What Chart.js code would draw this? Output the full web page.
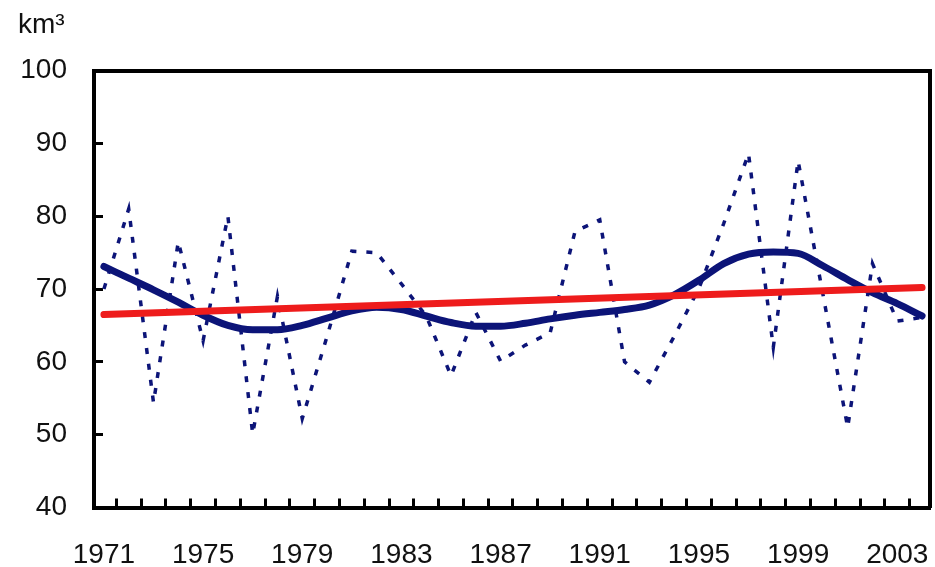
<!DOCTYPE html>
<html>
<head>
<meta charset="utf-8">
<script src="https://cdn.jsdelivr.net/npm/chart.js@4/dist/chart.umd.min.js"></script>
<style>
  html, body { margin: 0; padding: 0; background: #fff; }
  #wrap { width: 935px; height: 567px; }
</style>
</head>
<body>
<div id="wrap"><canvas id="c" width="935" height="567"></canvas></div>
<script>
// ---- data ----
const years = [1971,1972,1973,1974,1975,1976,1977,1978,1979,1980,1981,1982,1983,1984,1985,1986,1987,1988,1989,1990,1991,1992,1993,1994,1995,1996,1997,1998,1999,2000,2001,2002,2003,2004];
const annualValues = [70.0,81.0,54.4,76.5,62.9,80.0,50.1,69.0,52.2,63.5,75.2,75.0,70.7,66.3,58.1,66.8,60.1,62.3,64.0,77.9,79.5,60.0,57.2,63.5,70.1,79.0,88.6,62.0,87.6,69.3,51.0,73.5,65.6,66.1];
const smoothedValues = [73.1,71.5,69.9,68.2,66.4,65.0,64.4,64.4,65.0,66.0,67.0,67.5,67.2,66.3,65.4,64.9,64.9,65.3,65.9,66.4,66.8,67.2,67.8,69.2,71.2,73.5,74.8,75.1,74.9,73.2,71.3,69.5,68.0,66.3];
const trendYears = [1971, 2004];
const trendValues = [66.5, 70.2];
const xTickLabels = [1971,1975,1979,1983,1987,1991,1995,1999,2003];
const yTickValues = [40,50,60,70,80,90,100];
const unitLabel = 'km³';

const toPoints = (xs, ys) => xs.map((x, i) => ({ x: x, y: ys[i] }));
// tick marks sit between the years
const xTickMarks = years.slice(0, -1).map(y => y + 0.5);
const allXTicks = xTickLabels.concat(xTickMarks).sort((a, b) => a - b);

const FONT = "'Liberation Sans', Arial, Helvetica, sans-serif";
const NAVY = '#0c1478';
const RED = '#ee1c1c';

new Chart(document.getElementById('c'), {
  type: 'line',
  data: {
    datasets: [
      {
        label: 'Trend',
        data: toPoints(trendYears, trendValues),
        borderColor: RED,
        borderWidth: 7,
        pointRadius: 0,
        borderCapStyle: 'round',
        tension: 0
      },
      {
        label: 'Smoothed',
        data: toPoints(years, smoothedValues),
        borderColor: NAVY,
        borderWidth: 7,
        pointRadius: 0,
        borderCapStyle: 'round',
        cubicInterpolationMode: 'monotone'
      },
      {
        label: 'Annual',
        data: toPoints(years, annualValues),
        borderColor: NAVY,
        borderWidth: 3.5,
        borderDash: [6, 10],
        pointRadius: 0,
        tension: 0
      }
    ]
  },
  options: {
    responsive: false,
    animation: false,
    layout: { padding: { left: 18, right: 5, top: 0, bottom: 0 } },
    plugins: {
      legend: { display: false },
      tooltip: { enabled: false },
      title: {
        display: true,
        text: unitLabel,
        align: 'start',
        color: '#111',
        font: { family: FONT, size: 28, weight: 'normal', lineHeight: 1.2 },
        padding: { top: 8, bottom: 29 }
      }
    },
    scales: {
      x: {
        type: 'linear',
        position: 'bottom',
        min: 1970.6,
        max: 2004.32,
        afterBuildTicks: (scale) => { scale.ticks = allXTicks.map(v => ({ value: v })); },
        afterFit: (scale) => { scale.height = 59.5; scale.paddingLeft = 0; scale.paddingRight = 0; },
        ticks: {
          autoSkip: false,
          maxRotation: 0,
          padding: 40,
          color: '#111',
          font: { family: FONT, size: 28 },
          callback: (v) => xTickLabels.includes(v) ? String(v) : ''
        },
        grid: {
          drawOnChartArea: false,
          drawTicks: true,
          tickLength: -9,
          tickWidth: 3,
          tickColor: (ctx) => (ctx.tick && ctx.tick.value % 1 !== 0) ? '#000' : 'rgba(0,0,0,0)',
          color: 'rgba(0,0,0,0)'
        },
        border: { display: true, color: '#000', width: 4 }
      },
      x2: {
        type: 'linear',
        position: 'top',
        display: true,
        ticks: { display: false },
        grid: { display: false, drawTicks: false },
        border: { display: true, color: '#000', width: 4 }
      },
      y: {
        type: 'linear',
        position: 'left',
        min: 40,
        max: 100,
        afterBuildTicks: (scale) => { scale.ticks = yTickValues.map(v => ({ value: v })); },
        afterFit: (scale) => { scale.width = 76; },
        ticks: {
          padding: 36,
          color: '#111',
          font: { family: FONT, size: 28 }
        },
        grid: {
          drawOnChartArea: false,
          drawTicks: true,
          tickLength: -9,
          tickWidth: 3,
          tickColor: '#000',
          color: 'rgba(0,0,0,0)'
        },
        border: { display: true, color: '#000', width: 4 }
      },
      y2: {
        type: 'linear',
        position: 'right',
        display: true,
        ticks: { display: false },
        grid: { display: false, drawTicks: false },
        border: { display: true, color: '#000', width: 4 }
      }
    }
  }
});
</script>
</body>
</html>
